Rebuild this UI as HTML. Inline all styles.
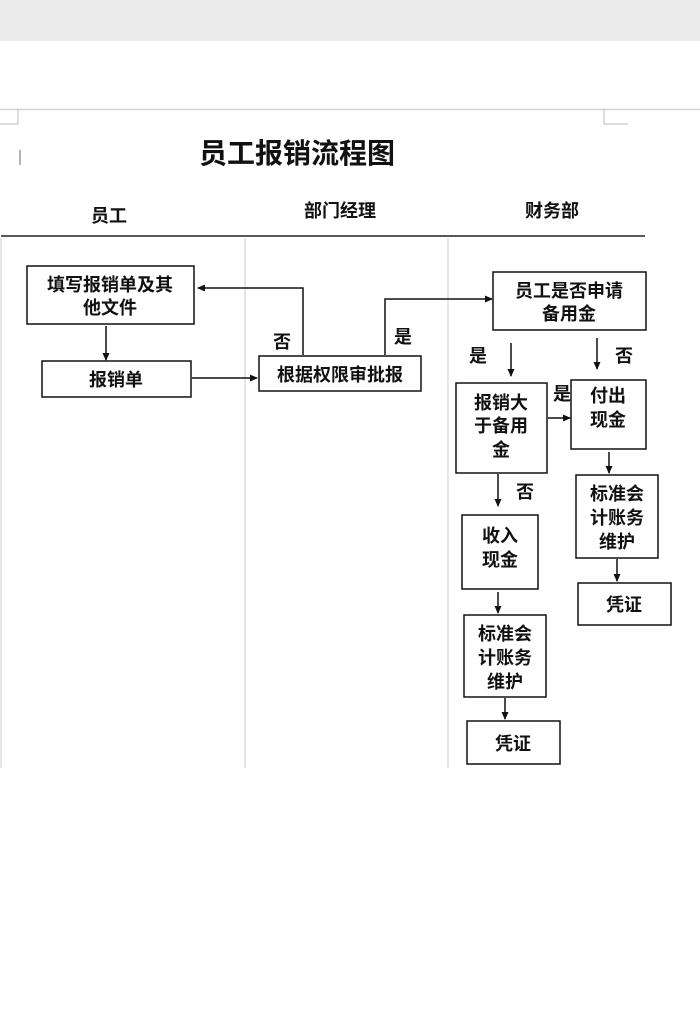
<!DOCTYPE html>
<html><head><meta charset="utf-8"><style>
html,body{margin:0;padding:0;background:#fff;}
svg{display:block;}
text{font-family:"Liberation Sans","Noto Sans CJK SC","WenQuanYi Zen Hei",sans-serif;font-weight:bold;fill:#111;}
</style></head><body>
<svg width="700" height="1030" viewBox="0 0 700 1030" xmlns="http://www.w3.org/2000/svg">
<defs><marker id="a" markerWidth="8" markerHeight="8" refX="7" refY="4" orient="auto" markerUnits="userSpaceOnUse"><path d="M0,0.5 L8,4 L0,7.5 z" fill="#111"/></marker></defs>
<rect x="0" y="0" width="700" height="41" fill="#ebebeb"/>
<line x1="0" y1="109.5" x2="700" y2="109.5" stroke="#d4d4d4" stroke-width="1.5"/>
<path d="M0,124 H18 V109" fill="none" stroke="#bbb" stroke-width="1"/>
<path d="M604,109 V124 H628" fill="none" stroke="#bbb" stroke-width="1"/>
<line x1="20" y1="150" x2="20" y2="165" stroke="#666" stroke-width="1"/>
<text x="297" y="163" font-size="28" text-anchor="middle">员工报销流程图</text>
<text x="109" y="222" font-size="18" text-anchor="middle">员工</text>
<text x="340" y="217" font-size="18" text-anchor="middle">部门经理</text>
<text x="552" y="217" font-size="18" text-anchor="middle">财务部</text>
<line x1="1" y1="236" x2="645" y2="236" stroke="#222" stroke-width="1.5"/>
<line x1="1" y1="238" x2="1" y2="768" stroke="#ccc" stroke-width="1"/>
<line x1="245" y1="238" x2="245" y2="768" stroke="#ccc" stroke-width="1"/>
<line x1="448" y1="238" x2="448" y2="768" stroke="#ccc" stroke-width="1"/>
<g fill="#fff" stroke="#111" stroke-width="1.5">
<rect x="27" y="266" width="167" height="58"/>
<rect x="42" y="361" width="149" height="36"/>
<rect x="259" y="356" width="162" height="35"/>
<rect x="493" y="272" width="153" height="58"/>
<rect x="456" y="383" width="91" height="90"/>
<rect x="571" y="380" width="75" height="69"/>
<rect x="462" y="515" width="76" height="74"/>
<rect x="464" y="615" width="82" height="82"/>
<rect x="467" y="721" width="93" height="43"/>
<rect x="576" y="475" width="82" height="83"/>
<rect x="578" y="583" width="93" height="42"/>
</g>
<g stroke="#111" stroke-width="1.5" fill="none" marker-end="url(#a)">
<line x1="106" y1="326" x2="106" y2="360"/>
<line x1="192" y1="378" x2="257" y2="378"/>
<path d="M303,355 V288 H198"/>
<path d="M385,355 V299 H492"/>
<line x1="511" y1="343" x2="511" y2="376"/>
<line x1="597" y1="338" x2="597" y2="369"/>
<line x1="548" y1="418" x2="570" y2="418"/>
<line x1="498" y1="474" x2="498" y2="506"/>
<line x1="498" y1="592" x2="498" y2="613"/>
<line x1="505" y1="698" x2="505" y2="719"/>
<line x1="609" y1="452" x2="609" y2="473"/>
<line x1="617" y1="559" x2="617" y2="581"/>
</g>
<g font-size="18" text-anchor="middle">
<text x="110" y="291">填写报销单及其</text>
<text x="110" y="314">他文件</text>
<text x="116" y="386">报销单</text>
<text x="340" y="381">根据权限审批报</text>
<text x="569" y="297">员工是否申请</text>
<text x="569" y="320">备用金</text>
<text x="501" y="409">报销大</text>
<text x="501" y="432">于备用</text>
<text x="501" y="456">金</text>
<text x="608" y="402">付出</text>
<text x="608" y="426">现金</text>
<text x="500" y="542">收入</text>
<text x="500" y="566">现金</text>
<text x="505" y="640">标准会</text>
<text x="505" y="664">计账务</text>
<text x="505" y="688">维护</text>
<text x="513" y="750">凭证</text>
<text x="617" y="500">标准会</text>
<text x="617" y="524">计账务</text>
<text x="617" y="548">维护</text>
<text x="624" y="611">凭证</text>
<text x="282" y="348">否</text>
<text x="403" y="343">是</text>
<text x="478" y="362">是</text>
<text x="624" y="362">否</text>
<text x="562" y="400">是</text>
<text x="525" y="498">否</text>
</g>
</svg>
</body></html>
